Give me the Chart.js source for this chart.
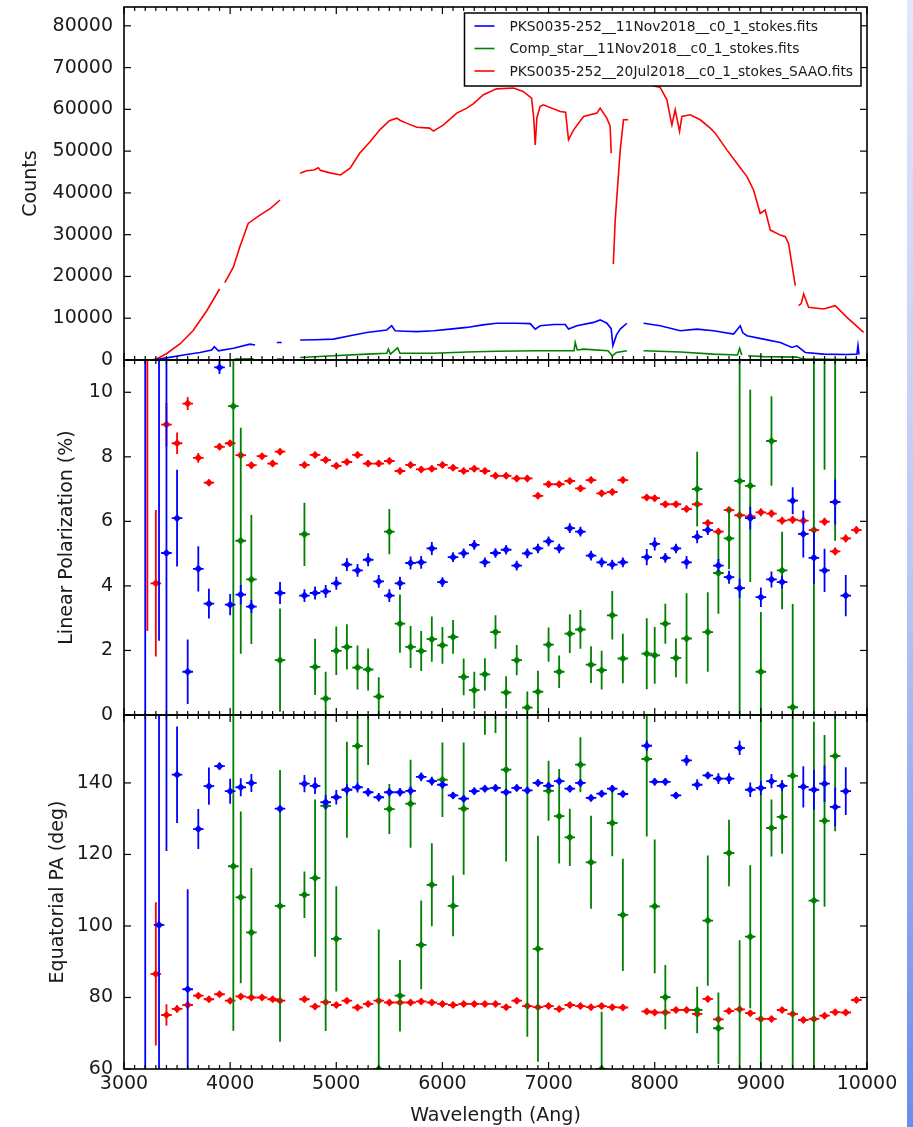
<!DOCTYPE html>
<html>
<head>
<meta charset="utf-8">
<title>PKS0035-252 spectropolarimetry</title>
<script src="https://cdn.jsdelivr.net/npm/chart.js@4.4.1/dist/chart.umd.min.js"></script>
<style>
  html, body { margin: 0; padding: 0; background: #fff; }
  #wrap { position: relative; width: 913px; height: 1127px; overflow: hidden; background: #fff; }
  #wrap canvas { position: absolute; left: 0; top: 0; }
  #edge { position: absolute; left: 907px; top: 0; width: 6px; height: 1127px;
          background: linear-gradient(to bottom, #e3e7fb 0%, #bcc8f5 50%, #6b8cee 100%); }
</style>
</head>
<body>
<div id="wrap">
  <canvas id="countsChart" width="913" height="1127"></canvas>
  <canvas id="polChart" width="913" height="1127"></canvas>
  <canvas id="paChart" width="913" height="1127"></canvas>
  <div id="edge"></div>
</div>
<script>
// legend labels
const legendLabels = [
  "PKS0035-252__11Nov2018__c0_1_stokes.fits",
  "Comp_star__11Nov2018__c0_1_stokes.fits",
  "PKS0035-252__20Jul2018__c0_1_stokes_SAAO.fits"
];

// tick values
const waveTicks = [3000, 4000, 5000, 6000, 7000, 8000, 9000, 10000];
const countsTicks = [0, 10000, 20000, 30000, 40000, 50000, 60000, 70000, 80000];
const polTicks = [0, 2, 4, 6, 8, 10];
const paTicks = [60, 80, 100, 120, 140];

// top panel: spectra (null = gap)
const blueSpecWave = [3300, 3400, 3590, 3716, 3826, 3851, 3889, 4030, 4187, 4235, 4300, 4440, 4486, 4570, 4660, 4800, 4973, 5130, 5287, 5475, 5522, 5554, 5650, 5759, 5915, 6072, 6230, 6380, 6512, 6700, 6827, 6874, 6921, 7050, 7157, 7188, 7267, 7424, 7486, 7549, 7590, 7606, 7640, 7675, 7738, 7820, 7895, 8052, 8241, 8398, 8555, 8743, 8806, 8830, 8869, 9025, 9183, 9292, 9340, 9419, 9591, 9811, 9905, 9915, 9925];
const blueSpecCounts = [100, 500, 1300, 1800, 2400, 3200, 2200, 2800, 3800, 3600, null, 4200, 4200, null, 4800, 4850, 5000, 5800, 6600, 7200, 8200, 7000, 6900, 6800, 7000, 7400, 7800, 8400, 8800, 8800, 8700, 7400, 8200, 8500, 8500, 7400, 8200, 9000, 9600, 8800, 7500, 3400, 6000, 7400, 8800, null, 8800, 8200, 7000, 7400, 7000, 6200, 8200, 6500, 5800, 5000, 4200, 3000, 3400, 1800, 1400, 1300, 1400, 3500, 1300];

const greenSpecWave = [4040, 4220, 4300, 4440, 4490, 4570, 4660, 4973, 5287, 5475, 5491, 5510, 5578, 5600, 5915, 6230, 6512, 6900, 7240, 7251, 7270, 7330, 7560, 7600, 7640, 7738, 7820, 7895, 8241, 8555, 8780, 8800, 8820, 8850, 8880, 9025, 9340, 9400, 9920];
const greenSpecCounts = [200, 300, null, 200, 200, null, 600, 1000, 1400, 1600, 2600, 1400, 2900, 1600, 1600, 1900, 2100, 2200, 2200, 4200, 2400, 2600, 2200, 1000, 1800, 2200, null, 2200, 1900, 1400, 1200, 2800, 1200, null, 1000, 800, 700, 200, 100];

const redSpecWave = [3270, 3310, 3400, 3530, 3650, 3780, 3900, 3930, 3950, 4030, 4090, 4170, 4280, 4380, 4470, 4560, 4660, 4720, 4790, 4830, 4850, 4940, 5040, 5130, 5220, 5320, 5410, 5500, 5570, 5600, 5660, 5760, 5880, 5915, 6010, 6135, 6230, 6290, 6386, 6510, 6670, 6760, 6840, 6860, 6874, 6890, 6920, 6950, 7110, 7160, 7188, 7236, 7330, 7456, 7486, 7549, 7580, 7590, 7600, 7610, 7628, 7675, 7706, 7750, 7820, 7900, 7990, 8050, 8115, 8140, 8162, 8193, 8234, 8256, 8334, 8429, 8523, 8570, 8680, 8774, 8869, 8931, 8994, 9041, 9089, 9183, 9230, 9261, 9324, 9340, 9356, 9380, 9403, 9450, 9591, 9701, 9811, 9968];
const redSpecCounts = [0, 300, 1500, 3900, 7000, 11800, 17000, null, 18500, 22200, 27000, 32700, 34700, 36300, 38300, null, 44700, 45300, 45500, 46000, 45400, 44800, 44300, 45900, 49500, 52300, 55100, 57300, 57900, 57400, 56700, 55700, 55500, 54800, 56300, 59100, 60300, 61300, 63500, 64900, 65100, 64300, 62700, 58000, 51500, 58000, 60700, 61100, 59500, 59300, 52700, 55100, 58300, 59100, 60300, 57900, 56000, 49500, null, 23000, 33500, 50300, 57500, 57500, null, 67000, 65600, 65300, 62300, 59000, 56300, 59900, 54700, 58300, 58700, 57500, 55500, 54300, 50300, 47100, 43900, 40700, 35100, 35900, 31100, 29900, 29500, 27900, 17800, null, 13000, 13500, 15800, 12600, 12200, 13000, 10200, 6600];

// binned polarization, PKS0035-252 11Nov2018 (blue)
const blueBinWave = [3200, 3330, 3400, 3500, 3600, 3700, 3800, 3900, 4000, 4100, 4200, 4470, 4700, 4800, 4900, 5000, 5100, 5200, 5300, 5400, 5500, 5600, 5700, 5800, 5900, 6000, 6100, 6200, 6300, 6400, 6500, 6600, 6700, 6800, 6900, 7000, 7100, 7200, 7300, 7400, 7500, 7600, 7700, 7925, 8000, 8100, 8200, 8300, 8400, 8500, 8600, 8700, 8800, 8900, 9000, 9100, 9200, 9300, 9400, 9500, 9600, 9700, 9800];
const bluePol = [15, 13, 5.02, 6.1, 1.34, 4.53, 3.45, 10.77, 3.42, 3.73, 3.36, 3.78, 3.7, 3.78, 3.83, 4.08, 4.66, 4.48, 4.81, 4.14, 3.7, 4.08, 4.71, 4.73, 5.16, 4.12, 4.89, 5.01, 5.27, 4.73, 5.02, 5.12, 4.63, 5.01, 5.16, 5.38, 5.16, 5.79, 5.68, 4.94, 4.73, 4.66, 4.73, 4.89, 5.3, 4.87, 5.16, 4.73, 5.52, 5.73, 4.63, 4.27, 3.93, 6.1, 3.65, 4.2, 4.12, 6.64, 5.61, 4.87, 4.48, 6.6, 3.7];
const bluePolErr = [20, 10.7, 7, 1.5, 1.0, 0.7, 0.46, 0.2, 0.33, 0.3, 0.2, 0.34, 0.2, 0.2, 0.2, 0.2, 0.2, 0.2, 0.2, 0.2, 0.2, 0.2, 0.2, 0.2, 0.2, 0.15, 0.15, 0.15, 0.15, 0.15, 0.15, 0.15, 0.15, 0.15, 0.15, 0.15, 0.15, 0.15, 0.15, 0.15, 0.15, 0.15, 0.15, 0.25, 0.2, 0.15, 0.15, 0.2, 0.2, 0.15, 0.2, 0.2, 0.3, 0.35, 0.3, 0.25, 0.2, 0.42, 0.73, 0.8, 0.67, 0.7, 0.64];
const bluePA = [200, 100.3, 175, 142.3, 82.3, 127.1, 139.1, 144.7, 137.7, 138.8, 140, 132.8, 139.8, 139.2, 134.6, 136, 138.1, 138.8, 137.4, 136, 137.4, 137.4, 137.8, 141.7, 140.5, 139.5, 136.5, 135.6, 137.7, 138.4, 138.6, 137.4, 138.6, 137.9, 140, 139.2, 140.5, 138.4, 140, 135.8, 137, 138.4, 136.9, 150.4, 140.3, 140.3, 136.5, 146.3, 139.5, 142.1, 141.2, 141.2, 149.8, 138.1, 138.6, 140.5, 139.2, null, 138.9, 138.1, 139.8, 133.3, 137.7];
const bluePAErr = [150, 60, 54, 13.5, 28, 5.6, 5.2, 1, 3.5, 2.5, 2.5, 1, 2.4, 2.3, 2, 2, 1.5, 1.5, 1.2, 1.2, 1.2, 1.2, 1.2, 1.2, 1.2, 1, 1, 1, 1, 1, 1, 1, 1, 1, 1, 1, 1, 1, 1, 1, 1, 1, 1, 1.5, 1, 1, 1, 1.5, 1.5, 1, 1.5, 1.5, 2, 2, 2, 2, 1.5, null, 5.8, 5.6, 5.1, 5.4, 6.7];

// binned polarization, comparison star 11Nov2018 (green)
const greenBinWave = [4030, 4100, 4200, 4470, 4700, 4800, 4900, 5000, 5100, 5200, 5300, 5400, 5500, 5600, 5700, 5800, 5900, 6000, 6100, 6200, 6300, 6400, 6500, 6600, 6700, 6800, 6900, 7000, 7100, 7200, 7300, 7400, 7500, 7600, 7700, 7925, 8000, 8100, 8200, 8300, 8400, 8500, 8600, 8700, 8800, 8900, 9000, 9100, 9200, 9300, 9500, 9600, 9700];
const greenPol = [9.57, 5.4, 4.2, 1.7, 5.6, 1.49, 0.51, 1.99, 2.11, 1.47, 1.41, 0.57, 5.68, 2.83, 2.11, 1.98, 2.35, 2.16, 2.42, 1.18, 0.77, 1.26, 2.57, 0.7, 1.7, 0.23, 0.72, 2.18, 1.34, 2.52, 2.65, 1.56, 1.39, 3.09, 1.75, 1.9, 1.85, 2.83, 1.77, 2.37, 7.0, 2.57, 4.4, 5.47, 7.25, 7.1, 1.34, 8.49, 4.48, 0.24, 12, 14, 13];
const greenPolErr = [10, 3.5, 2.0, 1.6, 0.98, 0.87, 0.83, 0.75, 0.7, 0.68, 0.65, 0.6, 0.7, 0.9, 0.65, 0.62, 0.7, 0.57, 0.52, 0.57, 0.57, 0.5, 0.52, 0.5, 0.47, 0.5, 0.65, 0.53, 0.5, 0.6, 0.6, 0.57, 0.6, 0.75, 0.77, 1.1, 0.88, 0.62, 0.6, 1.4, 1.16, 1.23, 1.26, 0.95, 7.3, 2.98, 1.85, 1.39, 1.2, 3.2, 12, 6.4, 7.6];
const greenPA = [116.7, 108, 98.2, 105.6, 108.7, 113.4, 133.6, 96.4, 138.1, 150.3, 165, 60, 132.7, 80.5, 134.2, 94.7, 111.5, 140.9, 105.6, 132.8, null, 170, 170, 143.7, null, 160, 93.6, 137.8, 130.7, 124.8, 145.1, 117.8, 60, 128.8, 103.1, 146.7, 105.5, 80.1, null, null, 76.5, 101.5, 71.4, 120.4, 55, 97, 200, 127.4, 130.5, 142, 107.1, 129.4, 147.5];
const greenPAErr = [46, 24, 18, 38, 6.5, 22, 63, 14.7, 13.4, 10, 20, 39, 7, 10, 12.3, 12.4, 11.6, 10.4, 8.5, 18.5, null, 16.5, 16, 25.7, null, 91, 31.6, 8.4, 13.2, 8, 7.7, 13, 16, 9.3, 15.7, 21.7, 18.7, 9, null, null, 6.5, 18.2, 10, 9.3, 41, 20, 150, 8, 10.3, 85, 50, 24, 21];

// binned polarization, PKS0035-252 20Jul2018 SAAO (red)
const redBinWave = [3220, 3300, 3400, 3500, 3600, 3700, 3800, 3900, 4000, 4100, 4200, 4300, 4400, 4470, 4700, 4800, 4900, 5000, 5100, 5200, 5300, 5400, 5500, 5600, 5700, 5800, 5900, 6000, 6100, 6200, 6300, 6400, 6500, 6600, 6700, 6800, 6900, 7000, 7100, 7200, 7300, 7400, 7500, 7600, 7700, 7925, 8000, 8100, 8200, 8300, 8400, 8500, 8600, 8700, 8800, 8900, 9000, 9100, 9200, 9300, 9400, 9500, 9600, 9700, 9800, 9900];
const redPol = [14, 4.08, 9.0, 8.42, 9.65, 7.97, 7.2, 8.31, 8.42, 8.05, 7.74, 8.02, 7.79, 8.16, 7.75, 8.06, 7.9, 7.72, 7.84, 8.06, 7.79, 7.79, 7.87, 7.56, 7.75, 7.61, 7.63, 7.75, 7.66, 7.56, 7.63, 7.56, 7.41, 7.41, 7.33, 7.33, 6.79, 7.15, 7.15, 7.25, 7.02, 7.28, 6.87, 6.91, 7.28, 6.74, 6.72, 6.53, 6.53, 6.38, 6.53, 5.95, 5.68, 6.35, 6.19, 6.15, 6.28, 6.24, 6.02, 6.05, 6.02, 5.73, 5.99, 5.07, 5.47, 5.73];
const redPolErr = [11.4, 2.27, 0.67, 0.33, 0.2, 0.15, 0.1, 0.1, 0.1, 0.1, 0.1, 0.1, 0.1, 0.1, 0.1, 0.1, 0.1, 0.1, 0.1, 0.1, 0.1, 0.1, 0.1, 0.1, 0.1, 0.1, 0.1, 0.1, 0.1, 0.1, 0.1, 0.1, 0.1, 0.1, 0.1, 0.1, 0.1, 0.1, 0.1, 0.1, 0.1, 0.1, 0.1, 0.1, 0.1, 0.1, 0.1, 0.1, 0.1, 0.1, 0.1, 0.1, 0.1, 0.1, 0.12, 0.12, 0.12, 0.12, 0.12, 0.12, 0.12, 0.12, 0.12, 0.12, 0.12, 0.12];
const redPA = [null, 86.6, 75.1, 76.8, 77.9, 80.5, 79.5, 80.9, 79.1, 80.3, 80.0, 80.0, 79.5, 79.1, 79.5, 77.5, 78.7, 77.9, 79.1, 77.2, 78.2, 79.1, 78.6, 78.6, 78.6, 78.9, 78.6, 78.2, 77.9, 78.2, 78.2, 78.2, 78.2, 77.3, 79.1, 77.6, 77.3, 77.6, 76.8, 77.9, 77.6, 77.3, 77.6, 77.3, 77.2, 76.1, 75.8, 75.8, 76.5, 76.5, 75.4, 79.6, 73.9, 76.2, 76.7, 75.6, 74.0, 74.0, 76.5, 75.4, 73.7, 74.0, 74.9, 75.9, 75.8, 79.3];
const redPAErr = [null, 20, 3, 1, 1, 0.6, 0.6, 0.6, 0.6, 0.6, 0.6, 0.6, 0.6, 0.6, 0.6, 0.6, 0.6, 0.6, 0.6, 0.6, 0.6, 0.6, 0.6, 0.6, 0.6, 0.6, 0.6, 0.6, 0.6, 0.6, 0.6, 0.6, 0.6, 0.6, 0.6, 0.6, 0.6, 0.6, 0.6, 0.6, 0.6, 0.6, 0.6, 0.6, 0.6, 0.6, 0.6, 0.6, 0.6, 0.6, 0.6, 0.6, 0.6, 0.6, 0.6, 0.6, 0.6, 0.6, 0.6, 0.6, 0.6, 0.6, 0.6, 0.6, 0.6, 0.6];

// half width of a wavelength bin (Ang)
const binHalfWidth = 50;

const BLUE = "#0000ff";
const GREEN = "#008000";
const RED = "#ff0000";
const TEXT = "#1a1a1a";
Chart.defaults.font.family = "'DejaVu Sans', sans-serif";
Chart.defaults.color = TEXT;

const specPoints = (wave, counts) => wave.map((x, i) => ({ x: x, y: counts[i] }));
const binPoints = (wave, vals, errs) => {
  const pts = [];
  wave.forEach((x, i) => {
    if (vals[i] !== null) pts.push({ x: x, y: vals[i], err: errs[i] });
  });
  return pts;
};
const fixedTicks = values => scale => { scale.ticks = values.map(v => ({ value: v })); };

// inside ticks on all four sides + frame, matplotlib style
const axesFrame = {
  id: "axesFrame",
  afterDatasetsDraw(chart) {
    const { ctx, chartArea: a, scales } = chart;
    const x = scales.x, y = scales.y;
    const seg = (x1, y1, x2, y2) => { ctx.beginPath(); ctx.moveTo(x1, y1); ctx.lineTo(x2, y2); ctx.stroke(); };
    ctx.save();
    ctx.strokeStyle = "#000";
    ctx.lineWidth = 1.2;
    for (let v = x.min; v <= x.max; v += 100) {
      const px = x.getPixelForValue(v);
      const len = v % 1000 === 0 ? 7 : 4;
      seg(px, a.top, px, a.top + len);
      seg(px, a.bottom, px, a.bottom - len);
    }
    y.ticks.forEach(t => {
      const py = y.getPixelForValue(t.value);
      seg(a.left, py, a.left + 7, py);
      seg(a.right, py, a.right - 7, py);
    });
    ctx.lineWidth = 1.6;
    ctx.strokeRect(a.left, a.top, a.right - a.left, a.bottom - a.top);
    ctx.restore();
  }
};

// vertical and horizontal error bars, drawn under each dataset's markers
const errorBars = {
  id: "errorBars",
  beforeDatasetDraw(chart, args) {
    const ds = chart.data.datasets[args.index];
    if (!ds.errorBars) return;
    const { ctx, chartArea: a, scales: { x, y } } = chart;
    ctx.save();
    ctx.beginPath();
    ctx.rect(a.left, a.top, a.right - a.left, a.bottom - a.top);
    ctx.clip();
    ctx.strokeStyle = ds.borderColor;
    ctx.lineWidth = 1.8;
    ds.data.forEach(p => {
      const px = x.getPixelForValue(p.x), py = y.getPixelForValue(p.y);
      ctx.beginPath();
      ctx.moveTo(px, y.getPixelForValue(p.y - p.err));
      ctx.lineTo(px, y.getPixelForValue(p.y + p.err));
      ctx.moveTo(x.getPixelForValue(p.x - binHalfWidth), py);
      ctx.lineTo(x.getPixelForValue(p.x + binHalfWidth), py);
      ctx.stroke();
    });
    ctx.restore();
  }
};

// legend box in the upper right of the top panel
const legendBox = {
  id: "legendBox",
  afterDatasetsDraw(chart) {
    const { ctx, chartArea: a } = chart;
    const sets = chart.data.datasets;
    ctx.save();
    ctx.font = "13.8px 'DejaVu Sans'";
    const textW = Math.max(...sets.map(d => ctx.measureText(d.label).width));
    const w = 45 + textW + 8, h = 73;
    const left = a.right - 6 - w, top = a.top + 6;
    ctx.fillStyle = "#fff";
    ctx.fillRect(left, top, w, h);
    ctx.strokeStyle = "#000";
    ctx.lineWidth = 1.5;
    ctx.strokeRect(left, top, w, h);
    sets.forEach((d, i) => {
      const cy = top + 13 + i * 22.5;
      ctx.strokeStyle = d.borderColor;
      ctx.lineWidth = 1.6;
      ctx.beginPath(); ctx.moveTo(left + 10, cy); ctx.lineTo(left + 30, cy); ctx.stroke();
      ctx.fillStyle = TEXT;
      ctx.textBaseline = "middle";
      ctx.fillText(d.label, left + 45, cy + 1);
    });
    ctx.restore();
  }
};

const yScale = (min, max, tickValues, title, titlePad) => ({
  type: "linear",
  min: min,
  max: max,
  afterBuildTicks: fixedTicks(tickValues),
  afterFit: s => { s.width = 124; s.paddingTop = 0; s.paddingBottom = 0; },
  grid: { display: false, drawTicks: false },
  border: { display: false },
  ticks: { autoSkip: false, padding: 11, color: TEXT, font: { size: 19 }, callback: v => String(v) },
  title: { display: true, text: title, color: TEXT, font: { size: 19 }, padding: { top: titlePad, bottom: 0 } }
});

const hiddenX = { type: "linear", min: 3000, max: 10000, display: false };

const baseOptions = (padTop, padBottom) => ({
  responsive: false,
  animation: false,
  events: [],
  layout: { padding: { left: 0, right: 46, top: padTop, bottom: padBottom } },
  plugins: { legend: { display: false }, tooltip: { enabled: false } }
});

const scatterSet = (label, color, wave, vals, errs) => ({
  label: label,
  data: binPoints(wave, vals, errs),
  errorBars: true,
  borderColor: color,
  backgroundColor: color,
  pointStyle: "rectRot",
  pointRadius: 4,
  pointBorderWidth: 0,
  showLine: false
});

// top: counts
new Chart(document.getElementById("countsChart"), {
  type: "line",
  data: {
    datasets: [
      { label: legendLabels[0], data: specPoints(blueSpecWave, blueSpecCounts), borderColor: BLUE },
      { label: legendLabels[1], data: specPoints(greenSpecWave, greenSpecCounts), borderColor: GREEN },
      { label: legendLabels[2], data: specPoints(redSpecWave, redSpecCounts), borderColor: RED }
    ]
  },
  options: Object.assign(baseOptions(7, 1127 - 360), {
    spanGaps: false,
    elements: { point: { radius: 0 }, line: { borderWidth: 1.6, tension: 0, fill: false } },
    scales: { x: hiddenX, y: yScale(0, 84500, countsTicks, "Counts", 20) }
  }),
  plugins: [axesFrame, legendBox]
});

// middle: linear polarization
new Chart(document.getElementById("polChart"), {
  type: "scatter",
  data: {
    datasets: [
      scatterSet(legendLabels[0], BLUE, blueBinWave, bluePol, bluePolErr),
      scatterSet(legendLabels[1], GREEN, greenBinWave, greenPol, greenPolErr),
      scatterSet(legendLabels[2], RED, redBinWave, redPol, redPolErr)
    ]
  },
  options: Object.assign(baseOptions(360, 1127 - 715), {
    scales: { x: hiddenX, y: yScale(0, 11, polTicks, "Linear Polarization (%)", 56) }
  }),
  plugins: [errorBars, axesFrame]
});

// bottom: position angle
new Chart(document.getElementById("paChart"), {
  type: "scatter",
  data: {
    datasets: [
      scatterSet(legendLabels[0], BLUE, blueBinWave, bluePA, bluePAErr),
      scatterSet(legendLabels[1], GREEN, greenBinWave, greenPA, greenPAErr),
      scatterSet(legendLabels[2], RED, redBinWave, redPA, redPAErr)
    ]
  },
  options: Object.assign(baseOptions(715, 0), {
    scales: {
      x: {
        type: "linear", min: 3000, max: 10000, position: "bottom",
        afterBuildTicks: fixedTicks(waveTicks),
        afterFit: s => { s.height = 58; },
        grid: { display: false, drawTicks: false },
        border: { display: false },
        ticks: { autoSkip: false, maxRotation: 0, padding: 4, color: TEXT, font: { size: 19 }, callback: v => String(v) },
        title: { display: true, text: "Wavelength (Ang)", color: TEXT, font: { size: 19 }, padding: { top: 0, bottom: 0 } }
      },
      y: yScale(60, 159, paTicks, "Equatorial PA (deg)", 47)
    }
  }),
  plugins: [errorBars, axesFrame]
});
</script>
</body>
</html>
